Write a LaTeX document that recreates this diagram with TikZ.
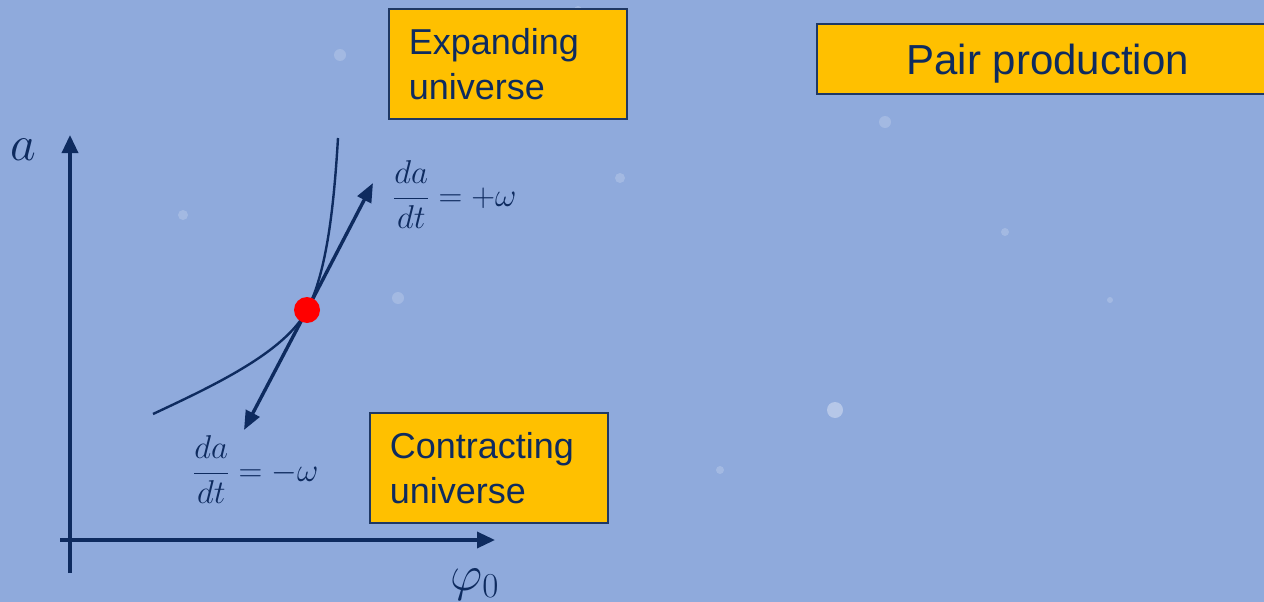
\RequirePackage{fix-cm}
\documentclass[tikz,border=0pt]{standalone}
\usepackage{fontspec}
\setmainfont{Liberation Sans}
\usetikzlibrary{arrows.meta}
\definecolor{bg}{HTML}{8FAADC}
\definecolor{navy}{HTML}{0E2B5F}
\definecolor{boxfill}{HTML}{FFC000}
\definecolor{boxline}{HTML}{1F3864}
\tikzset{
  labelbox/.style={draw=boxline, line width=1.6pt, fill=boxfill, text=navy, anchor=north west, inner xsep=20pt, inner ysep=0pt, align=left, font=\fontsize{36}{45}\selectfont},
  axisline/.style={draw=navy, line width=3.4pt, -{Triangle[length=18pt,width=16pt]}},
  tanarrow/.style={draw=navy, line width=3.4pt, -{Triangle[length=19pt,width=15pt]}},
  curveline/.style={draw=navy, line width=2.4pt},
  mathlabel/.style={text=navy, font=\fontsize{33}{38}\selectfont, inner sep=0pt},
  axislabel/.style={text=navy, anchor=base west, inner sep=0pt, font=\fontsize{50}{56}\selectfont},
  star/.style={fill=white, opacity=0.18}
}
\begin{document}
\begin{tikzpicture}[x=1pt,y=-1pt]
\fill[bg] (0,0) rectangle (1264,602);
\useasboundingbox (0,0) rectangle (1264,602);
% faint background stars
\fill[star] (183,215) circle (5);
\fill[star] (340,55) circle (6);
\fill[star] (398,298) circle (6);
\fill[star] (620,178) circle (5);
\fill[star] (885,122) circle (6);
\fill[star] (578,10) circle (4);
\fill[star] (1005,232) circle (4);
\fill[star, opacity=0.35] (835,410) circle (8);
\fill[star] (720,470) circle (4);
\fill[star] (1110,300) circle (3);

% boxes
\node[labelbox, minimum width=238pt, minimum height=110pt, text width=198pt] (expand) at (388,8) {Expanding\\universe};
\node[labelbox, minimum width=238pt, minimum height=110pt, text width=198pt] (contract) at (369,412) {Contracting\\universe};
\node[labelbox, minimum width=462pt, minimum height=70pt, align=center, text depth=0pt, font=\fontsize{42}{48}\selectfont] (pair) at (816,23) {Pair production};

% axes
\coordinate (ybot) at (70,573);
\coordinate (ytop) at (70,135);
\coordinate (xleft) at (60,540);
\coordinate (xright) at (495,540);
\draw[axisline] (ybot) -- (ytop);
\draw[axisline] (xleft) -- (xright);
\node[axislabel] (alab) at (10,160) {$a$};
\node[axislabel] (philab) at (450,590) {$\varphi_0$};

% curve
\coordinate (cstart) at (153,414);
\coordinate (p) at (307,310);
\coordinate (cend) at (338,138);
\draw[curveline] (cstart) .. controls (215,385) and (285,352) .. (p) .. controls (327,272) and (334,205) .. (cend);

% tangent arrows
\coordinate (tipup) at (373,183);
\coordinate (tipdown) at (244,430);
\draw[tanarrow] (p) -- (tipup);
\draw[tanarrow] (p) -- (tipdown);
\node[circle, fill=red, minimum size=26pt, inner sep=0pt] (dot) at (p) {};

% labels
\node[mathlabel, anchor=west] (plus) at (393,195) {$\displaystyle\frac{da}{dt}=+\omega$};
\node[mathlabel, anchor=west] (minus) at (193,470) {$\displaystyle\frac{da}{dt}=-\omega$};
\end{tikzpicture}
\end{document}
